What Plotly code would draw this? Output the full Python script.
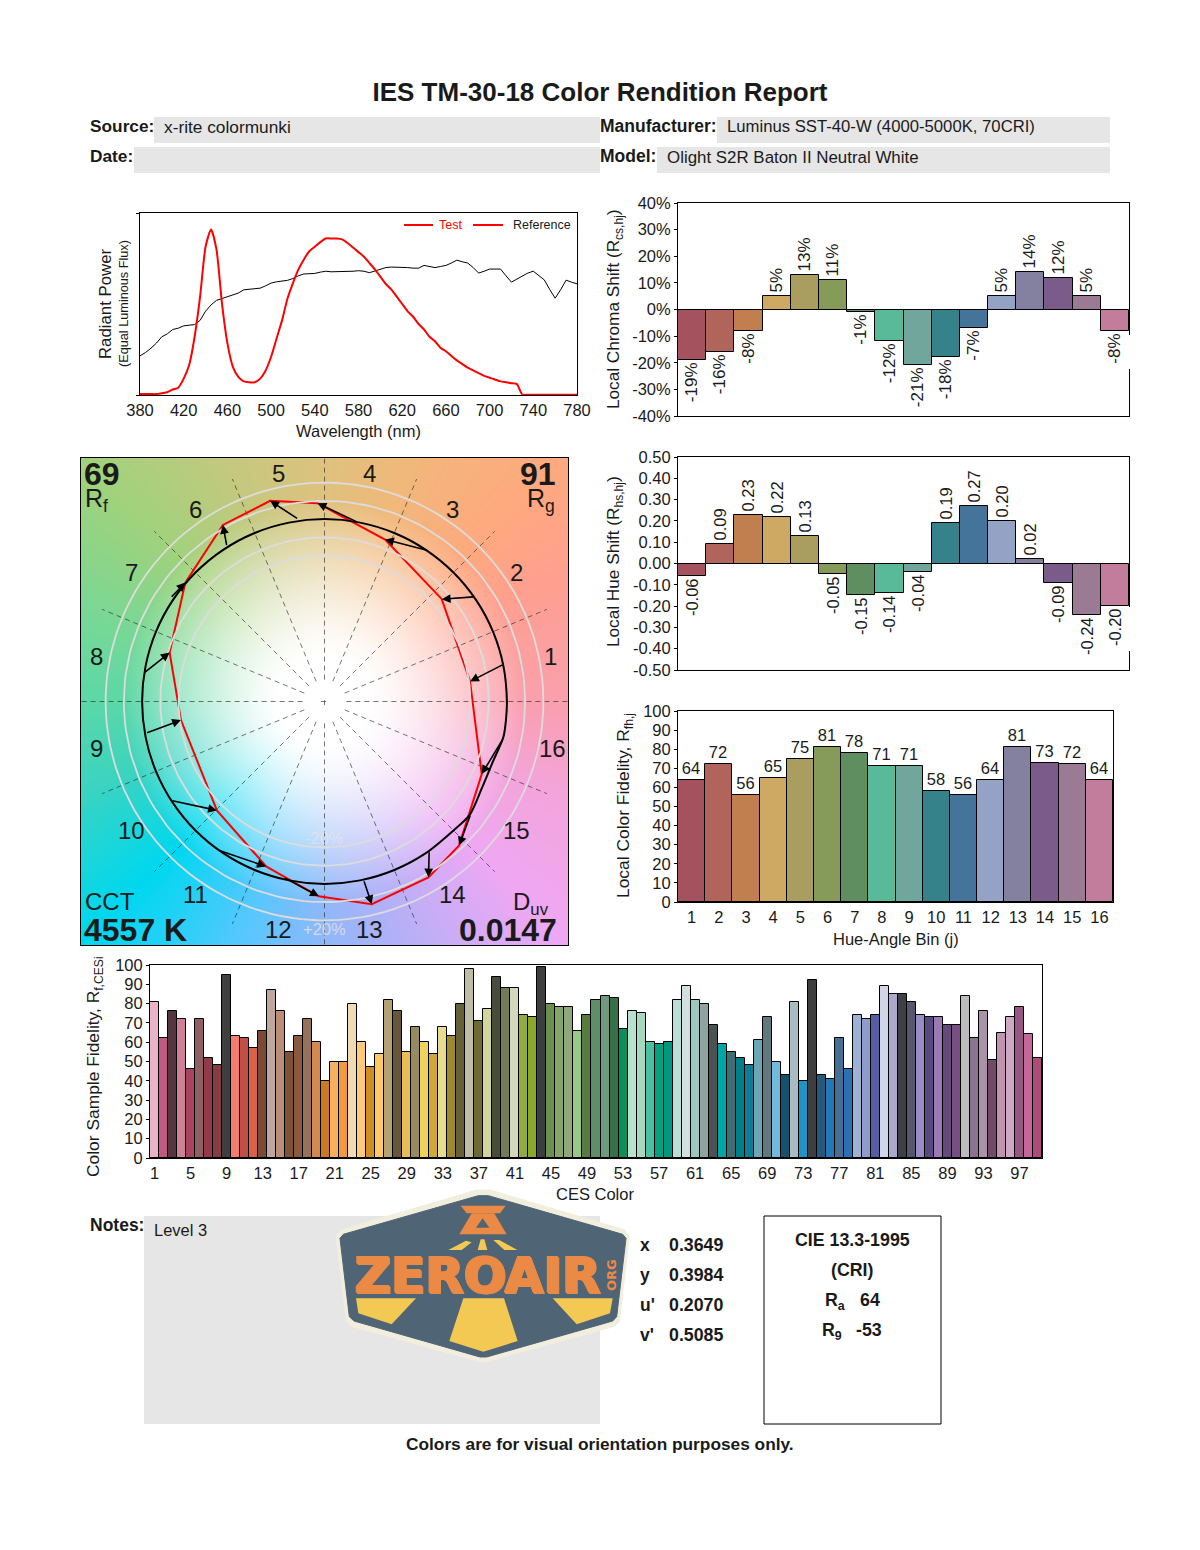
import numpy as np
import plotly.graph_objects as go

W, H = 1200, 1550
FONT = "Liberation Sans"
INK = "#1a1a1a"

# ---------- data ----------
wavelengths = list(range(380, 785, 5))
test_spd = [0.005,0.005,0.005,0.005,0.01,0.015,0.03,0.04,0.09,0.165,0.32,0.54,0.815,0.91,0.80,0.505,0.285,0.155,0.10,0.075,
            0.07,0.07,0.09,0.135,0.21,0.31,0.41,0.53,0.615,0.69,0.745,0.79,0.815,0.84,0.86,0.86,0.86,0.855,0.835,0.81,
            0.785,0.76,0.725,0.69,0.65,0.61,0.58,0.54,0.50,0.46,0.43,0.39,0.36,0.32,0.295,0.26,0.24,0.215,0.19,0.17,
            0.15,0.135,0.12,0.105,0.095,0.085,0.075,0.07,0.065,0.06,0.002,0.002,0.002,0.002,0.002,0.002,0.002,0.002,0.002,0.002,0.002]
ref_spd = [0.215,0.233,0.257,0.285,0.32,0.336,0.36,0.367,0.38,0.385,0.387,0.41,0.46,0.495,0.52,0.53,0.54,0.55,0.56,0.578,
           0.58,0.583,0.587,0.60,0.615,0.622,0.626,0.63,0.64,0.655,0.665,0.666,0.668,0.675,0.68,0.677,0.677,0.677,0.677,0.68,
           0.683,0.68,0.672,0.68,0.692,0.70,0.703,0.703,0.703,0.70,0.697,0.697,0.712,0.708,0.70,0.706,0.712,0.725,0.741,0.732,
           0.725,0.70,0.67,0.68,0.692,0.692,0.692,0.655,0.62,0.637,0.655,0.67,0.68,0.655,0.633,0.58,0.532,0.578,0.631,0.62,0.611]
spectrum_ticks = list(range(380, 820, 40))

bins = list(range(1, 17))
bin_colors = ["#a3525e","#b0645a","#c17f4f","#cda964","#a99d5f","#869a5a","#5f8f60","#58ba99",
              "#71a69c","#36828a","#44749a","#94a2c6","#84809f","#7a5b8a","#9a7b93","#c27c9c"]
chroma_shift = [-19,-16,-8,5,13,11,-1,-12,-21,-18,-7,5,14,12,5,-8]
hue_shift = [-0.06,0.09,0.23,0.22,0.13,-0.05,-0.15,-0.14,-0.04,0.19,0.27,0.20,0.02,-0.09,-0.24,-0.20]
local_fidelity = [64,72,56,65,75,81,78,71,71,58,56,64,81,73,72,64]

ces_ids = list(range(1, 100))
ces_fidelity = [81,62,76,72,46,72,52,48,95,63,62,57,66,87,76,55,63,72,60,40,50,50,80,60,47,54,82,76,55,68,60,54,68,63,80,98,71,77,94,88,
                88,74,73,99,80,78,78,66,74,82,84,83,67,76,75,60,59,60,82,89,82,80,69,59,55,52,48,61,73,50,43,81,40,92,43,41,62,46,74,72,
                74,89,85,85,81,74,73,73,69,69,84,62,76,51,65,73,78,64,52]
ces_colors = ["#ecb3c8","#c05a80","#55353f","#cf7f97","#a8445e","#8f5f63","#93394a","#873c44","#3f3f3f","#f47d6d",
              "#c24f45","#d9614a","#7a4a35","#bfa79b","#b98f78","#7e5236","#8b5a3c","#96725a","#d28a4e","#c97b22",
              "#f8b05c","#f19a42","#efdab4","#fcca78","#d08d25","#fdc964","#b4a274","#66573a","#e8be54","#968b5e",
              "#eed25e","#cfa935","#e6dc92","#9d882e","#666038","#bfbea2","#6e6a32","#d2d699","#484c3a","#737b55",
              "#d3d7bc","#93ab3d","#8ba82c","#3c3e3e","#6b914f","#85a66a","#8fa87b","#98c886","#577c40","#5f8f68",
              "#6e9a7e","#377048","#0c8f5a","#b7e0ce","#a6d8c0","#4cc0a2","#05a07e","#009680","#b9e0d6","#cfe0de",
              "#9bc9c0","#8fa3a1","#4b5352","#00a5a5","#3b6f73","#007f88","#0c7d92","#6ca6b4","#62787f","#70bade",
              "#15536d","#a9bcc4","#1f92c8","#3e3e3e","#25597b","#2378b8","#456f94","#2b70b4","#9cb3d6","#8d9ccb",
              "#565ea2","#d2d5e8","#aaa8cc","#3f3f46","#56566c","#9a8bc4","#574a7f","#9c78b4","#644a7c","#794e85",
              "#bcbcbc","#8a7290","#aa92a8","#704a68","#c093ae","#d0a8c5","#985684","#c4689a","#ab4d78"]
ces_ticks = list(range(1, 100, 4))

# colour vector graphic: normalised to the reference radius
test_x = [0.798,0.643,0.332,-0.038,-0.298,-0.557,-0.763,-0.849,-0.787,-0.590,-0.320,-0.031,0.259,0.570,0.738,0.862]
test_y = [0.110,0.561,0.888,1.087,1.100,0.968,0.652,0.268,-0.102,-0.597,-0.904,-1.068,-1.111,-0.964,-0.789,-0.398]
ref_x = [0.984,0.826,0.570,0.186,-0.142,-0.535,-0.846,-0.992,-0.981,-0.842,-0.581,-0.225,0.214,0.574,0.802,0.981]
ref_y = [0.205,0.574,0.827,0.981,0.999,0.849,0.566,0.155,-0.175,-0.542,-0.816,-0.964,-0.977,-0.818,-0.617,-0.201]
ref_curve_deg = [0,11.25,22.5,33.75,45,56.25,67.5,78.75,90,101.25,112.5,123.75,135,146.25,157.5,168.75,180,191.25,202.5,213.75,
                 225,236.25,247.5,258.75,270,281.25,292.5,303.75,315,322,331,340,348.75,354,360]
ref_curve_r = [1,1,1,1,1,1,1,1,1,1,1,1,1,1,1,1,1,1,1,1,1,1,1,1,1,1,1,1,1,1.01,0.985,0.98,1,1,1]
ring_levels = [0.8,0.9,1.1,1.2]
bin_labels = [(550,656),(516,573),(452,509),(369,474),(278,474),(195,509),(131,573),(96,656),
              (96,748),(131,830),(195,894),(278,929),(369,929),(452,894),(516,830),(552,748)]

hue_stops_deg = [0,30,45,70,90,110,135,160,180,200,225,250,270,290,315,340,360]
hue_stops_rgb = [(251,159,174),(255,160,142),(255,169,128),(242,184,122),(223,194,126),(200,200,128),(162,210,124),(120,216,150),
                 (92,216,168),(60,212,192),(0,216,240),(85,200,255),(144,184,248),(184,176,248),(239,168,244),(244,164,216),(251,159,174)]

# ---------- helpers ----------
def dom_x(a, b): return [a / W, b / W]
def dom_y(top, bot): return [1 - bot / H, 1 - top / H]

ann, shapes = [], []

def txt(x, y, s, size=16.5, anchor="left", color=INK, bold=False, rot=0, family=FONT, valign="middle", shadow=None):
    font = dict(family=family, size=size, color=color)
    if shadow:
        font["shadow"] = shadow
    ann.append(dict(x=x / W, y=1 - y / H, xref="paper", yref="paper", text=f"<b>{s}</b>" if bold else s,
                    showarrow=False, xanchor=anchor, yanchor=valign, textangle=rot,
                    font=font, borderpad=0, borderwidth=0))

def rect(x0, y0, x1, y1, fill="#e6e6e6", line=None, width=1, layer="below"):
    shapes.append(dict(type="rect", xref="paper", yref="paper", x0=x0 / W, x1=x1 / W, y0=1 - y1 / H, y1=1 - y0 / H,
                       fillcolor=fill, line=dict(color=line or "rgba(0,0,0,0)", width=width if line else 0), layer=layer))

def seg(x0, y0, x1, y1, color, width=2):
    shapes.append(dict(type="line", xref="paper", yref="paper", x0=x0 / W, x1=x1 / W, y0=1 - y0 / H, y1=1 - y1 / H,
                       line=dict(color=color, width=width), layer="above"))

def poly(points, fill, line=None, lw=0):
    d = "M" + " L".join(f"{px / W:.5f},{1 - py / H:.5f}" for px, py in points) + " Z"
    shapes.append(dict(type="path", xref="paper", yref="paper", path=d, fillcolor=fill,
                       line=dict(color=line or fill, width=lw), layer="above"))

def logo(points):
    return [(330 + zx / 3, 1185 + zy / 3) for zx, zy in points]

fig = go.Figure()

axis_common = dict(showline=True, linecolor="black", linewidth=1, mirror=True, showgrid=False, zeroline=False,
                   tickfont=dict(family=FONT, size=16.5, color=INK), ticks="outside", ticklen=3, tickcolor="black")

# ---------- spectrum ----------
fig.add_trace(go.Scatter(x=wavelengths, y=ref_spd, mode="lines", line=dict(color="black", width=1), xaxis="x", yaxis="y", showlegend=False))
fig.add_trace(go.Scatter(x=wavelengths, y=test_spd, mode="lines", line=dict(color="#ff0000", width=2, shape="spline", smoothing=0.6), xaxis="x", yaxis="y", showlegend=False))

# ---------- chroma ----------
fig.add_trace(go.Bar(x=bins, y=chroma_shift, marker=dict(color=bin_colors, line=dict(color="black", width=1)),
                     text=[f"{v}%" for v in chroma_shift], textposition="outside", textangle=-90, cliponaxis=False, constraintext="none",
                     textfont=dict(family=FONT, size=17, color=INK), xaxis="x2", yaxis="y2", showlegend=False))
# ---------- hue ----------
fig.add_trace(go.Bar(x=bins, y=hue_shift, marker=dict(color=bin_colors, line=dict(color="black", width=1)),
                     text=[f"{v:.2f}" for v in hue_shift], textposition="outside", textangle=-90, cliponaxis=False, constraintext="none",
                     textfont=dict(family=FONT, size=16.5, color=INK), xaxis="x3", yaxis="y3", showlegend=False))
# ---------- local fidelity ----------
fig.add_trace(go.Bar(x=bins, y=local_fidelity, marker=dict(color=bin_colors, line=dict(color="black", width=1)),
                     text=[str(v) for v in local_fidelity], textposition="outside", textangle=0, cliponaxis=False, constraintext="none",
                     textfont=dict(family=FONT, size=16.5, color=INK), xaxis="x4", yaxis="y4", showlegend=False))
# ---------- CES ----------
fig.add_trace(go.Bar(x=ces_ids, y=ces_fidelity, marker=dict(color=ces_colors, line=dict(color="black", width=1)),
                     xaxis="x5", yaxis="y5", showlegend=False))

# ---------- colour vector graphic ----------
LIM = 1.335
n = 488
cx = -LIM + (np.arange(n) + 0.5) * 2 * LIM / n
XX, YY = np.meshgrid(cx, cx)
rr = np.hypot(XX, YY)
ang = np.degrees(np.arctan2(YY, XX)) % 360
stops = np.array(hue_stops_rgb, dtype=float)
base = np.stack([np.interp(ang, hue_stops_deg, stops[:, c]) for c in range(3)], axis=-1)
t = np.clip((rr - 0.25) / 0.85, 0, 1) ** 1.3
img = (255 * (1 - t[..., None]) + base * t[..., None]).astype(np.uint8)
fig.add_trace(go.Image(z=img, x0=cx[0], y0=cx[0], dx=cx[1] - cx[0], dy=cx[1] - cx[0], xaxis="x6", yaxis="y6", hoverinfo="skip"))

spoke_x, spoke_y = [], []
for k in range(16):
    a = np.radians(k * 22.5)
    outer = 1.335 if k % 4 == 0 else 1.32
    spoke_x += [0.12 * np.cos(a), outer * np.cos(a), None]
    spoke_y += [0.12 * np.sin(a), outer * np.sin(a), None]
spoke_x += [-0.02, 0.02, None, 0, 0]
spoke_y += [0, 0, None, -0.02, 0.02]
fig.add_trace(go.Scatter(x=spoke_x, y=spoke_y, mode="lines", line=dict(color="rgba(40,40,40,0.8)", width=0.8, dash="5px,4px"),
                         xaxis="x6", yaxis="y6", showlegend=False, hoverinfo="skip"))
fig.add_trace(go.Scatter(x=test_x + test_x[:1], y=test_y + test_y[:1], mode="lines", line=dict(color="#ff0000", width=2),
                         xaxis="x6", yaxis="y6", showlegend=False))
ring_t = np.radians(np.arange(0, 361, 2))
for level in ring_levels:
    fig.add_trace(go.Scatter(x=level * np.cos(ring_t), y=level * np.sin(ring_t), mode="lines",
                             line=dict(color="#dcdcdc", width=1.8), xaxis="x6", yaxis="y6", showlegend=False, hoverinfo="skip"))
cd = np.radians(ref_curve_deg)
cr = np.array(ref_curve_r)
fig.add_trace(go.Scatter(x=cr * np.cos(cd), y=cr * np.sin(cd), mode="lines", line=dict(color="black", width=2, shape="spline", smoothing=0.8),
                         xaxis="x6", yaxis="y6", showlegend=False))
for tx, ty, rx, ry in zip(test_x, test_y, ref_x, ref_y):
    ann.append(dict(x=tx, y=ty, ax=rx, ay=ry, xref="x6", yref="y6", axref="x6", ayref="y6", text="", showarrow=True,
                    arrowhead=2, arrowsize=1.1, arrowwidth=1.6, arrowcolor="black", standoff=0))

for i, (lx, ly) in enumerate(bin_labels):
    txt(lx, ly, str(i + 1), size=24, anchor="center")
txt(84, 474, "69", size=32, bold=True)
txt(85, 500, "R<sub>f</sub>", size=25)
txt(556, 474, "91", size=32, anchor="right", bold=True)
txt(527, 500, "R<sub>g</sub>", size=25)
txt(85, 901, "CCT", size=24)
txt(84, 930, "4557 K", size=32, bold=True)
txt(513, 903, "D<sub>uv</sub>", size=24)
txt(557, 930, "0.0147", size=32, anchor="right", bold=True)
txt(324, 929, "+20%", size=16.5, anchor="center", color="rgba(225,225,235,0.85)")
txt(324, 838, "-20%", size=16.5, anchor="center", color="rgba(232,232,232,0.6)")

# ---------- page furniture ----------
rect(154, 117, 600, 143); rect(134, 147, 600, 173); rect(717, 117, 1110, 143); rect(657, 147, 1110, 173)
rect(144, 1216, 600, 1424)
rect(764, 1216, 941, 1424, fill="rgba(0,0,0,0)", line="black", width=1)

txt(90, 126, "Source:", 17.3, bold=True)
txt(164, 127, "x-rite colormunki", 17.3)
txt(90, 156, "Date:", 17.3, bold=True)
txt(600, 126, "Manufacturer:", 17.5, bold=True)
txt(727, 127, "Luminus SST-40-W (4000-5000K, 70CRI)", 16.7)
txt(600, 156, "Model:", 17.5, bold=True)
txt(667, 157, "Olight S2R Baton II Neutral White", 16.9)

# spectrum texts and legend
txt(105, 304, "Radiant Power", 16.8, anchor="center", rot=-90)
txt(124, 304, "(Equal Luminous Flux)", 12.7, anchor="center", rot=-90)
txt(358, 431, "Wavelength (nm)", 16.5, anchor="center")
seg(404, 225, 433, 225, "#ff0000", 2)
seg(473, 225, 503, 225, "#ff0000", 2)
txt(439, 225, "Test", 12.5, color="#ff0000")
txt(513, 225, "Reference", 12.5)

txt(614, 309, "Local Chroma Shift (R<sub>cs,hj</sub>)", 17.2, anchor="center", rot=-90)
txt(614, 562, "Local Hue Shift (R<sub>hs,hj</sub>)", 17.2, anchor="center", rot=-90)
txt(624, 806, "Local Color Fidelity, R<sub>fh,j</sub>", 17.4, anchor="center", rot=-90)
txt(896, 939, "Hue-Angle Bin (j)", 16.5, anchor="center")
txt(94, 1067, "Color Sample Fidelity, R<sub>f,CESi</sub>", 17.4, anchor="center", rot=-90)
txt(595, 1194, "CES Color", 16.5, anchor="center")

# white gaps where value labels cross the frame
seg(1129, 335, 1129, 369, "white", 2)
seg(1129, 607, 1129, 651, "white", 2)

# notes and metrics
txt(90, 1225, "Notes:", 17.5, bold=True)
txt(154, 1230, "Level 3", 16.5)
for yy, name, val in [(1245, "x", "0.3649"), (1275, "y", "0.3984"), (1305, "u'", "0.2070"), (1335, "v'", "0.5085")]:
    txt(640, yy, name, 17.5, bold=True)
    txt(669, yy, val, 17.8, bold=True)
txt(852, 1240, "CIE 13.3-1995", 17.8, anchor="center", bold=True)
txt(852, 1270, "(CRI)", 17.8, anchor="center", bold=True)
txt(825, 1301, "R<sub>a</sub>", 17.8, bold=True)
txt(860, 1300, "64", 17.8, bold=True)
txt(822, 1331, "R<sub>9</sub>", 17.8, bold=True)
txt(856, 1330, "-53", 17.8, bold=True)
txt(600, 1444, "Colors are for visual orientation purposes only.", 17.3, anchor="center", bold=True)

# logo
CREAM, SLATE, ORANGE, YELLOW = "#f2eedd", "#4f6475", "#ea8a44", "#f4c953"
poly(logo([(440,15),(480,15),(885,135),(898,155),(868,410),(850,425),(470,530),(450,530),(68,425),(50,410),(18,155),(32,135)]), CREAM, CREAM, 1)
poly(logo([(445,32),(475,32),(878,148),(888,160),(860,395),(848,408),(470,516),(450,516),(72,408),(58,395),(30,160),(40,148)]), SLATE, SLATE, 1)
poly(logo([(392,62),(527,62),(510,85),(410,85)]), ORANGE)
poly(logo([(425,85),(388,148),(530,148),(493,85)]), ORANGE)
poly(logo([(458,100),(478,128),(438,128)]), SLATE)
poly(logo([(355,195),(408,167),(425,172),(395,195)]), YELLOW)
poly(logo([(443,195),(452,163),(463,163),(472,195)]), YELLOW)
poly(logo([(490,165),(508,165),(562,195),(523,195)]), YELLOW)
poly(logo([(78,340),(258,340),(185,418),(85,385)]), YELLOW)
poly(logo([(400,340),(522,340),(563,468),(460,500),(358,468)]), YELLOW)
poly(logo([(668,340),(848,340),(840,385),(740,418)]), YELLOW)
thick = f"1px 0 0 {ORANGE}, -1px 0 0 {ORANGE}, 0 1px 0 {ORANGE}, 0 -1px 0 {ORANGE}, 1.5px 1px 0 {ORANGE}, -1.5px -1px 0 {ORANGE}"
txt(478, 1276, "ZEROAIR", 50, anchor="center", color=ORANGE, bold=True, family="DejaVu Sans", shadow=thick)
txt(611, 1275, "ORG", 13, anchor="center", color=ORANGE, bold=True, rot=-90, family="DejaVu Sans")

fig.update_layout(
    width=W, height=H, margin=dict(l=0, r=0, t=0, b=0, autoexpand=False), paper_bgcolor="white", plot_bgcolor="white",
    bargap=0, showlegend=False, hovermode=False, annotations=ann, shapes=shapes,
    title=dict(text="<b>IES TM-30-18 Color Rendition Report</b>", x=0.5, xanchor="center", y=1 - 92 / H, yanchor="middle",
               font=dict(family=FONT, size=26, color=INK)),
    xaxis=dict(axis_common, domain=dom_x(140, 577), range=[380, 780], tickvals=spectrum_ticks, anchor="y", ticklen=0),
    yaxis=dict(axis_common, domain=dom_y(213, 395), range=[0, 1], tickvals=[0, 1], ticktext=["", ""], anchor="x"),
    xaxis2=dict(axis_common, domain=dom_x(678, 1129), range=[0.5, 16.5], showticklabels=False, ticks="", anchor="y2"),
    yaxis2=dict(axis_common, domain=dom_y(203, 416), range=[-40, 40], tickvals=list(range(-40, 50, 10)),
                ticktext=[f"{v}%" for v in range(-40, 50, 10)], anchor="x2"),
    xaxis3=dict(axis_common, domain=dom_x(678, 1129), range=[0.5, 16.5], showticklabels=False, ticks="", anchor="y3"),
    yaxis3=dict(axis_common, domain=dom_y(457, 670), range=[-0.5, 0.5], tickvals=[v / 10 for v in range(-5, 6)],
                ticktext=[f"{v / 10:.2f}" for v in range(-5, 6)], anchor="x3"),
    xaxis4=dict(axis_common, domain=dom_x(678, 1113), range=[0.5, 16.5], tickvals=bins, ticks="", anchor="y4"),
    yaxis4=dict(axis_common, domain=dom_y(711, 902), range=[0, 100], tickvals=list(range(0, 110, 10)), anchor="x4"),
    xaxis5=dict(axis_common, domain=dom_x(150, 1042), range=[0.5, 99.5], tickvals=ces_ticks, ticks="", anchor="y5"),
    yaxis5=dict(axis_common, domain=dom_y(965, 1158), range=[0, 100], tickvals=list(range(0, 110, 10)), anchor="x5"),
    xaxis6=dict(domain=dom_x(81, 568), range=[-LIM, LIM], showticklabels=False, ticks="", showgrid=False, zeroline=False,
                showline=True, linecolor="black", linewidth=1, mirror=True, anchor="y6"),
    yaxis6=dict(domain=dom_y(458, 945), range=[-LIM, LIM], showticklabels=False, ticks="", showgrid=False, zeroline=False,
                showline=True, linecolor="black", linewidth=1, mirror=True, anchor="x6"),
)

fig.write_html("out.html", config={"displayModeBar": False}, post_script="document.body.style.margin='0';")
